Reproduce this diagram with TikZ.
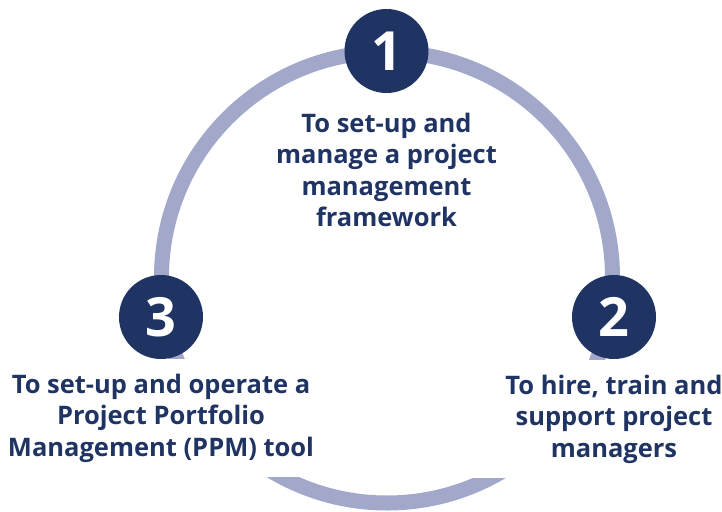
\documentclass[tikz,border=0pt]{standalone}
\usepackage{fontspec}
\setmainfont{Open Sans}
\usetikzlibrary{positioning}
\definecolor{navy}{HTML}{203464}
\definecolor{ringblue}{HTML}{A2A8CA}

\begin{document}
\begin{tikzpicture}[x=1pt,y=-1pt,
  num/.style={circle,fill=navy,text=white,minimum size=84pt,inner sep=0pt,
    font=\fontsize{54}{54}\selectfont\bfseries},
  goal/.style={text=navy,align=center,inner sep=0pt,
    font=\fontsize{25.5}{31.5}\selectfont\bfseries},
  side/.style={goal,fill=white,minimum height=118pt}]
  \useasboundingbox (0,0) rectangle (722,511);

  % --- Cycle ring ---
  \node (ring) [circle,draw=ringblue,line width=15pt,minimum size=451pt,inner sep=0pt] at (387,277.5) {};

  % --- Texts (side boxes hide the ring) ---
  \node (frame) [goal] at (386.5,170) {To set-up and\\manage a project\\management\\framework};
  \node (ppm) [side,minimum width=330pt] at (161,418) {To set-up and operate a\\Project Portfolio\\Management (PPM) tool};
  \node (hire) [side,minimum width=300pt] at (614,419) {To hire, train and\\support project\\managers};

  % --- Step numbers ---
  \node (one) [num] at (386.5,51) {1};
  \node (two) [num] at (614,317) {2};
  \node (three) [num] at (161,317) {3};
\end{tikzpicture}
\end{document}
